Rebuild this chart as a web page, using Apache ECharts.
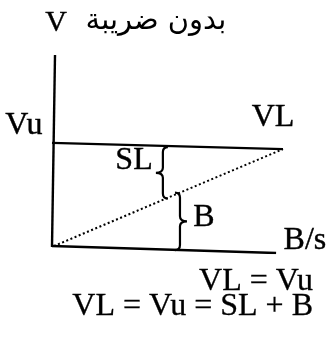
<!DOCTYPE html>
<html>
<head>
<meta charset="utf-8">
<script src="https://cdn.jsdelivr.net/npm/echarts@6/dist/echarts.min.js"></script>
<style>
  html, body { margin: 0; padding: 0; background: #fff; }
  #chart { width: 327px; height: 348px; }
</style>
</head>
<body>
<div id="chart"></div>
<script>
// Price (V) against bank reserves ratio (B/s), no-tax case.
// Each line is given by its end points in chart units (x: 0-100, y: 0-100).
const valueAxisLine = [[0, 3], [1.3, 100]];
const reservesAxisLine = [[0, 3.5], [97, 0]];
const vuLine = [[0, 55.6], [100, 52.5]];
const vlLine = [[0.8, 3.5], [100, 52.5]];

// Braces: [x, top, bottom, side of the point (-1 left, 1 right)]
const braces = [
  [48, 53.5, 27.5, -1],   // SL
  [55.4, 30.5, 1.5, 1]    // B
];

// Labels placed in chart units: [x, y, text]
const labels = [
  [-12.2, 64.5, 'Vu'],
  [95.7, 68.2, 'VL'],
  [35.5, 46.5, 'SL'],
  [65.8, 17.8, 'B'],
  [109.5, 6.2, 'B/s']
];

const titleArabic = 'بدون ضريبة';
const titleAxis = 'V';
const equations = ['VL = Vu', 'VL = Vu = SL + B'];

const serif = "'Liberation Serif', 'Times New Roman', serif";
const ink = '#000';

const chart = echarts.init(document.getElementById('chart'), null, { renderer: 'canvas' });

function lineSeries(data, type, width) {
  return {
    type: 'line',
    data: data,
    symbol: 'none',
    silent: true,
    animation: false,
    lineStyle: { color: ink, width: width, type: type }
  };
}

chart.setOption({
  animation: false,
  backgroundColor: '#fff',
  grid: { left: 52, right: 44, top: 55, bottom: 95 },
  xAxis: { type: 'value', min: 0, max: 100, show: false },
  yAxis: { type: 'value', min: 0, max: 100, show: false },
  series: [
    lineSeries(valueAxisLine, 'solid', 2.4),
    lineSeries(reservesAxisLine, 'solid', 2.4),
    lineSeries(vuLine, 'solid', 2.2),
    lineSeries(vlLine, [2, 2.5], 2),
    {
      type: 'custom',
      data: braces,
      silent: true,
      clip: false,
      renderItem: function (params, api) {
        const x = api.value(0);
        const top = api.coord([x, api.value(1)]);
        const bot = api.coord([x, api.value(2)]);
        const d = api.value(3);
        const px = top[0];
        const y1 = top[1], y2 = bot[1];
        const m = (y1 + y2) / 2;
        const path =
          'M' + (px - d * 5) + ' ' + y1 +
          ' Q' + px + ' ' + y1 + ' ' + px + ' ' + (y1 + 5) +
          ' L' + px + ' ' + (m - 5) +
          ' Q' + px + ' ' + m + ' ' + (px + d * 7) + ' ' + m +
          ' Q' + px + ' ' + m + ' ' + px + ' ' + (m + 5) +
          ' L' + px + ' ' + (y2 - 5) +
          ' Q' + px + ' ' + y2 + ' ' + (px - d * 5) + ' ' + y2;
        return {
          type: 'path',
          shape: { pathData: path },
          style: { stroke: ink, fill: null, lineWidth: 2.2 }
        };
      }
    },
    {
      type: 'custom',
      data: labels,
      silent: true,
      clip: false,
      renderItem: function (params, api) {
        const p = api.coord([api.value(0), api.value(1)]);
        return {
          type: 'text',
          style: {
            text: labels[params.dataIndex][2],
            x: p[0],
            y: p[1],
            align: 'center',
            verticalAlign: 'middle',
            font: '32px ' + serif,
            fill: ink,
            stroke: ink,
            lineWidth: 0.4
          }
        };
      }
    }
  ],
  graphic: [
    {
      type: 'text',
      style: {
        text: titleAxis, x: 56, y: 23, align: 'center', verticalAlign: 'middle',
        font: '30px ' + serif, fill: ink, stroke: ink, lineWidth: 0.4
      }
    },
    {
      type: 'text',
      style: {
        text: titleArabic, x: 156, y: 21, align: 'center', verticalAlign: 'middle',
        font: "29px 'DejaVu Sans', 'Noto Sans', sans-serif", fill: ink
      }
    },
    {
      type: 'text',
      style: {
        text: equations[0], x: 313, y: 282, align: 'right', verticalAlign: 'middle',
        font: '32px ' + serif, fill: ink, stroke: ink, lineWidth: 0.3
      }
    },
    {
      type: 'text',
      style: {
        text: equations[1], x: 313, y: 307, align: 'right', verticalAlign: 'middle',
        font: '32px ' + serif, fill: ink, stroke: ink, lineWidth: 0.3
      }
    }
  ]
});
</script>
</body>
</html>
